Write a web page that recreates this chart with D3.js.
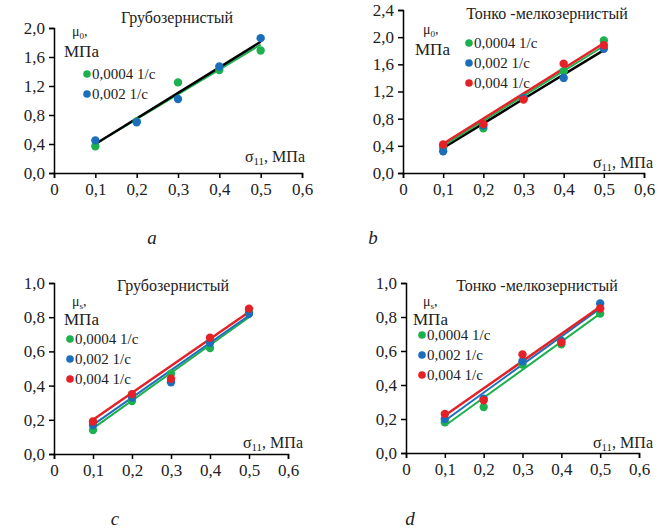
<!DOCTYPE html>
<html>
<head lang="ru">
    <meta charset="UTF-8">
    <title>mu vs sigma</title>
    <script src="https://cdnjs.cloudflare.com/ajax/libs/d3/7.8.5/d3.min.js"></script>
    <style>
        body { margin: 0; background: #fff; }
        svg text { font-family: "Liberation Serif", "DejaVu Serif", serif; fill: #222; }
        .legend text { font-size: 15px; }
        .title { font-size: 16px; }
        .cap { font-size: 19px; font-style: italic; }
    </style>
</head>
<body>
<script>

    var xVals = [0.1, 0.2, 0.3, 0.4, 0.5];
    var rates = ["0,0004 1/с", "0,002 1/с", "0,004 1/с"];
    var colors = ["#1db04f", "#1b6fba", "#e42127"];

    // a - coarse grained, mu0
    var aGreen = [0.37, 0.71, 1.25, 1.42, 1.69];
    var aBlue  = [0.45, 0.70, 1.02, 1.47, 1.86];
    var aTrendGreen = [0.40, 1.77];
    var aTrendBlack = [0.40, 1.81];

    // b - fine grained, mu0
    var bGreen = [0.38, 0.66, 1.10, 1.50, 1.95];
    var bBlue  = [0.32, 0.70, 1.10, 1.40, 1.83];
    var bRed   = [0.42, 0.72, 1.08, 1.61, 1.88];
    var bTrendBlack = [0.37, 1.81];
    var bTrendGreen = [0.40, 1.87];
    var bTrendRed   = [0.43, 1.91];

    // c - coarse grained, mus
    var cGreen = [0.14, 0.31, 0.47, 0.62, 0.83];
    var cBlue  = [0.17, 0.33, 0.42, 0.65, 0.82];
    var cRed   = [0.19, 0.35, 0.44, 0.68, 0.85];
    var cTrendGreen = [0.15, 0.80];
    var cTrendBlue  = [0.17, 0.81];
    var cTrendRed   = [0.20, 0.83];

    // d - fine grained, mus
    var dGreen = [0.18, 0.27, 0.52, 0.64, 0.82];
    var dBlue  = [0.20, 0.32, 0.54, 0.66, 0.88];
    var dRed   = [0.23, 0.31, 0.58, 0.65, 0.85];
    var dTrendGreen = [0.16, 0.82];
    var dTrendBlue  = [0.19, 0.85];
    var dTrendRed   = [0.22, 0.86];

    var xTicks = [0, 0.1, 0.2, 0.3, 0.4, 0.5, 0.6];

    var FONT = "'Liberation Serif', 'DejaVu Serif', serif";

    var svg = d3.select("body").append("svg")
            .attr("width", 667)
            .attr("height", 532)
            .attr("font-family", FONT);

    var comma = function(f) { return function(d) { return f(d).replace(".", ","); }; };

    var panels = [
        {title: "Грубозернистый", titleX: 177, titleY: 17, sub: "0",
            xr: [54, 302], yr: [173, 28], ymax: 2.0, ystep: 0.4,
            series: [aGreen, aBlue], legendN: 2,
            trends: [[aTrendGreen, colors[0], 2], [aTrendBlack, "#000", 2.5]],
            muX: 72, muY: 32, mpaX: 64, mpaY: 51,
            legX: 87, legY: 74, sigX: 305, sigY: 156,
            cap: "a", capX: 152, capY: 237},
        {title: "Тонко -мелкозернистый", titleX: 547, titleY: 13, sub: "0",
            xr: [403, 644], yr: [173, 10], ymax: 2.4, ystep: 0.4,
            series: [bGreen, bBlue, bRed], legendN: 3,
            trends: [[bTrendBlack, "#000", 2.5], [bTrendGreen, colors[0], 2], [bTrendRed, colors[2], 2.5]],
            muX: 423, muY: 30, mpaX: 415, mpaY: 49,
            legX: 469, legY: 43, sigX: 653, sigY: 162,
            cap: "b", capX: 373, capY: 237},
        {title: "Грубозернистый", titleX: 173, titleY: 285, sub: "s",
            xr: [54, 288], yr: [454, 283], ymax: 1.0, ystep: 0.2,
            series: [cGreen, cBlue, cRed], legendN: 3,
            trends: [[cTrendGreen, colors[0], 2], [cTrendBlue, colors[1], 2], [cTrendRed, colors[2], 2.5]],
            muX: 72, muY: 302, mpaX: 64, mpaY: 319,
            legX: 70, legY: 339, sigX: 303, sigY: 442,
            cap: "c", capX: 115, capY: 518},
        {title: "Тонко -мелкозернистый", titleX: 537, titleY: 285, sub: "s",
            xr: [406, 639], yr: [453, 283], ymax: 1.0, ystep: 0.2,
            series: [dGreen, dBlue, dRed], legendN: 3,
            trends: [[dTrendGreen, colors[0], 2], [dTrendBlue, colors[1], 2], [dTrendRed, colors[2], 2.5]],
            muX: 423, muY: 302, mpaX: 413, mpaY: 319,
            legX: 422, legY: 335, sigX: 653, sigY: 442,
            cap: "d", capX: 410, capY: 518}
    ];

    panels.forEach(function(p) {
        var x = d3.scaleLinear().domain([0, 0.6]).range(p.xr);
        var y = d3.scaleLinear().domain([0, p.ymax]).range(p.yr);
        var yTicks = d3.range(0, p.ymax + 0.001, p.ystep);

        var g = svg.append("g");

        // axes
        var xAxis = g.append("g")
                .attr("transform", "translate(0," + p.yr[0] + ")")
                .call(d3.axisBottom(x).tickValues(xTicks).tickSize(5).tickPadding(5)
                        .tickFormat(function(d) { return d === 0 ? "0" : comma(d3.format(".1f"))(d); }));
        var yAxis = g.append("g")
                .attr("transform", "translate(" + p.xr[0] + ",0)")
                .call(d3.axisLeft(y).tickValues(yTicks).tickSize(5).tickPadding(4)
                        .tickFormat(comma(d3.format(".1f"))));
        [xAxis, yAxis].forEach(function(ax) {
            ax.attr("font-family", FONT).attr("font-size", 17);
            ax.select(".domain").attr("stroke", "#000").attr("stroke-width", 1.5);
            ax.selectAll(".tick line").attr("stroke", "#000").attr("stroke-width", 1.5);
            ax.selectAll(".tick text").attr("fill", "#222");
        });

        // trend lines
        p.trends.forEach(function(t) {
            g.append("line")
                    .attr("x1", x(xVals[0])).attr("y1", y(t[0][0]))
                    .attr("x2", x(xVals[xVals.length - 1])).attr("y2", y(t[0][1]))
                    .attr("stroke", t[1]).attr("stroke-width", t[2]);
        });

        // points
        p.series.forEach(function(s, i) {
            g.selectAll(null).data(s).enter().append("circle")
                    .attr("cx", function(d, j) { return x(xVals[j]); })
                    .attr("cy", function(d) { return y(d); })
                    .attr("r", 4.2)
                    .attr("fill", colors[i]);
        });

        // title
        g.append("text").attr("class", "title")
                .attr("x", p.titleX).attr("y", p.titleY)
                .attr("text-anchor", "middle").attr("dy", "0.35em")
                .text(p.title);

        // y label
        var mu = g.append("text").attr("x", p.muX).attr("y", p.muY)
                .attr("dy", "0.3em").attr("font-size", 14);
        mu.append("tspan").text("μ");
        mu.append("tspan").attr("font-size", 9).attr("dy", 3).text(p.sub);
        mu.append("tspan").attr("dy", -3).text(",");
        g.append("text").attr("x", p.mpaX).attr("y", p.mpaY)
                .attr("dy", "0.35em").attr("font-size", 17).text("МПа");

        // x label
        var sig = g.append("text").attr("x", p.sigX).attr("y", p.sigY)
                .attr("dy", "0.35em").attr("font-size", 16).attr("text-anchor", "end");
        sig.append("tspan").text("σ");
        sig.append("tspan").attr("font-size", 11).attr("dy", 3).text("11");
        sig.append("tspan").attr("dy", -3).text(", МПа");

        // legend
        var leg = g.append("g").attr("class", "legend");
        d3.range(p.legendN).forEach(function(i) {
            leg.append("circle").attr("cx", p.legX).attr("cy", p.legY + i * 20)
                    .attr("r", 3.8).attr("fill", colors[i]);
            leg.append("text").attr("x", p.legX + 5).attr("y", p.legY + i * 20)
                    .attr("dy", "0.35em").text(rates[i]);
        });

        // caption
        svg.append("text").attr("class", "cap")
                .attr("x", p.capX).attr("y", p.capY)
                .attr("text-anchor", "middle").attr("dy", "0.35em")
                .text(p.cap);
    });

</script>
</body>
</html>
